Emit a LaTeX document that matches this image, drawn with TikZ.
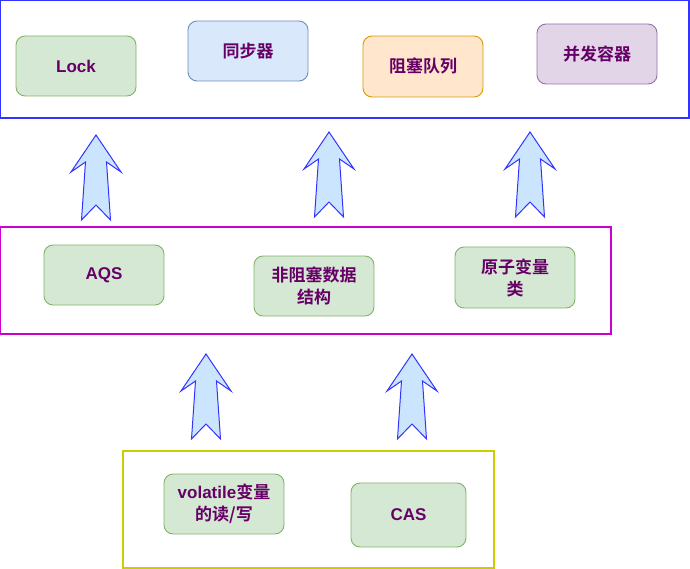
\documentclass[tikz,border=0pt]{standalone}
\usepackage{fontspec}
\setmainfont{Liberation Sans}
\newfontfamily\cjk{Noto Sans CJK SC}[BoldFont={Noto Sans CJK SC Bold}]
\definecolor{txt}{HTML}{660066}
\definecolor{gfill}{HTML}{D5E8D4}\definecolor{gline}{HTML}{82B366}
\definecolor{bfill}{HTML}{DAE8FC}\definecolor{bline}{HTML}{6C8EBF}
\definecolor{ofill}{HTML}{FFE6CC}\definecolor{oline}{HTML}{D79B00}
\definecolor{pfill}{HTML}{E1D5E7}\definecolor{pline}{HTML}{9673A6}
\definecolor{afill}{HTML}{CCE5FF}\definecolor{aline}{HTML}{3333FF}
\definecolor{topc}{HTML}{3333FF}\definecolor{midc}{HTML}{CC00CC}\definecolor{botc}{HTML}{CCCC00}
\tikzset{
  box/.style={draw, rounded corners=9pt, line width=0.9pt, minimum width=120pt, minimum height=60pt,
    inner sep=0pt, align=center, text=txt, font=\fontsize{17}{22}\selectfont\bfseries},
  gbox/.style={box, fill=gfill, draw=gline},
  bbox/.style={box, fill=bfill, draw=bline},
  obox/.style={box, fill=ofill, draw=oline},
  pbox/.style={box, fill=pfill, draw=pline},
  cont/.style={draw, line width=1.1pt, fill=none},
  blockarrow/.pic={\draw[fill=afill, draw=aline, line width=1pt, line join=miter]
    (0,0) -- (25,37) -- (10.5,27) -- (14.5,85) -- (0,70) -- (-14.5,85) -- (-10.5,27) -- (-25,37) -- cycle;}
}
\begin{document}
\begin{tikzpicture}[x=1pt,y=-1pt]
\useasboundingbox (0,0) rectangle (690,569);
% containers
\draw[cont, draw=topc, line width=1.3pt] (0.8,0.8) rectangle (689,118);
\draw[cont, draw=midc] (0.6,227) rectangle (611,334);
\draw[cont, draw=botc] (123,451) rectangle (494,568);
% top row
\node[gbox] (lock) at (76,66) {Lock};
\node[bbox] (sync) at (248,51) {\cjk 同步器};
\node[obox, minimum height=61pt] (bq) at (423,66.5) {\cjk 阻塞队列};
\node[pbox] (cc) at (597,54) {\cjk 并发容器};
% middle row
\node[gbox] (aqs) at (104,275) {AQS};
\node[gbox] (nb) at (314,286) {\cjk 非阻塞数据\\\cjk 结构};
\node[gbox, minimum height=61pt] (atomic) at (515,277.5) {\cjk 原子变量\\\cjk 类};
% bottom row
\node[gbox] (vol) at (224,504) {volatile{\cjk 变量}\\\cjk 的读/写};
\node[gbox, minimum width=115pt, minimum height=64pt] (cas) at (408.5,515) {CAS};
% block arrows
\pic at (96,135) {blockarrow};
\pic at (329,132) {blockarrow};
\pic at (530,132) {blockarrow};
\pic at (206,354) {blockarrow};
\pic at (412,354) {blockarrow};
\end{tikzpicture}
\end{document}
